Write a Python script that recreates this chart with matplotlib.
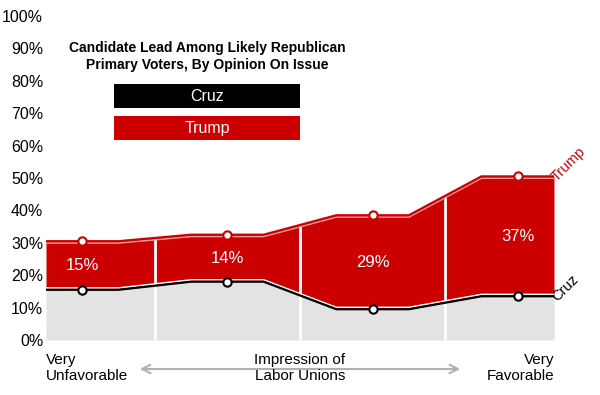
import numpy as np
import matplotlib
matplotlib.use("Agg")
import matplotlib.pyplot as plt
from matplotlib.transforms import offset_copy

# data
categories = ["Very Unfavorable", "Unfavorable", "Favorable", "Very Favorable"]
trump = [30.5, 32.5, 38.5, 50.5]
cruz = [15.5, 18.0, 9.5, 13.5]
lead_labels = ["15%", "14%", "29%", "37%"]
yticks = list(range(0, 101, 10))

RED = "#cc0000"
GREY = "#e3e3e3"

plt.rcParams["font.family"] = ["Liberation Sans", "DejaVu Sans"]

fig = plt.figure(figsize=(6.0, 3.95), dpi=100)
ax = fig.add_axes([46 / 600, 55 / 395, 508 / 600, 324 / 395])

# step-like profile: flat around each category, straight ramps between
xs, yt, yc = [], [], []
for i in range(len(categories)):
    xs += [i - 0.25, i + 0.25]
    yt += [trump[i], trump[i]]
    yc += [cruz[i], cruz[i]]
xs = np.array(xs)
yt = np.array(yt)
yc = np.array(yc)

ax.fill_between(xs, 0, yc, color=GREY, lw=0)
ax.fill_between(xs, yc, yt, color=RED, lw=0)

# separators
for i in range(len(categories) - 1):
    xm = i + 0.5
    ax.plot([xm, xm], [0, np.interp(xm, xs, yt)], color="white", lw=2, zorder=3)

# lines with thin highlights (offset in points)
below = offset_copy(ax.transData, fig=fig, x=0, y=-1.3, units="points")
above = offset_copy(ax.transData, fig=fig, x=0, y=1.3, units="points")
ax.plot(xs, yt, color="#ee9a9a", lw=1.2, zorder=4, transform=below)
ax.plot(xs, yt, color=RED, lw=1.6, zorder=5)
ax.plot(xs, yc, color="white", lw=1.2, zorder=4, transform=above)
ax.plot(xs, yc, color="black", lw=1.6, zorder=5)

cx = np.arange(len(categories))
ax.plot(cx, trump, "o", ms=6, mfc="white", mec=RED, mew=1.5, zorder=6)
ax.plot(cx, cruz, "o", ms=6, mfc="white", mec="black", mew=1.5, zorder=6)

for i, lab in enumerate(lead_labels):
    ax.text(i, (trump[i] + cruz[i]) / 2, lab, color="white", fontsize=12,
            ha="center", va="center", zorder=7)

# end labels, nudged right of the line ends
endlab = offset_copy(ax.transData, fig=fig, x=2, y=-4, units="points")
ax.text(3.25, trump[-1], "Trump", color=RED, fontsize=10.5, rotation=45,
        ha="left", va="baseline", rotation_mode="anchor", transform=endlab)
ax.text(3.25, cruz[-1], "Cruz", color="black", fontsize=10.5, rotation=45,
        ha="left", va="baseline", rotation_mode="anchor", transform=endlab)

ax.set_xlim(-0.25, 3.25)
ax.set_ylim(0, 100)
ax.set_yticks(yticks)
ax.set_yticklabels([f"{v}%" for v in yticks], fontsize=11.5)
ax.set_xticks([])
ax.tick_params(axis="y", length=0, pad=2)
for s in ax.spines.values():
    s.set_visible(False)

# title and legend boxes
ax.text(0.317, 0.875, "Candidate Lead Among Likely Republican\nPrimary Voters, By Opinion On Issue",
        transform=ax.transAxes, ha="center", va="center", fontsize=10,
        fontweight="bold", linespacing=1.2)
ax.add_patch(plt.Rectangle((0.134, 0.716), 0.366, 0.074, transform=ax.transAxes,
                           color="black", lw=0, clip_on=False))
ax.text(0.317, 0.753, "Cruz", transform=ax.transAxes, color="white",
        ha="center", va="center", fontsize=11.5)
ax.add_patch(plt.Rectangle((0.134, 0.617), 0.366, 0.074, transform=ax.transAxes,
                           color=RED, lw=0, clip_on=False))
ax.text(0.317, 0.654, "Trump", transform=ax.transAxes, color="white",
        ha="center", va="center", fontsize=11.5)

# bottom axis annotations
fig.text(46 / 600, 1 - 368 / 395, "Very\nUnfavorable", ha="left", va="center", fontsize=11)
fig.text(300 / 600, 1 - 368 / 395, "Impression of\nLabor Unions", ha="center", va="center", fontsize=11)
fig.text(554 / 600, 1 - 368 / 395, "Very\nFavorable", ha="right", va="center", fontsize=11)
fig.add_artist(matplotlib.patches.FancyArrowPatch(
    (137 / 600, 1 - 369 / 395), (463 / 600, 1 - 369 / 395), transform=fig.transFigure,
    arrowstyle="<->,head_length=6,head_width=3", color="#b0b0b0", lw=1.5))

fig.savefig("out.png", dpi=100)
